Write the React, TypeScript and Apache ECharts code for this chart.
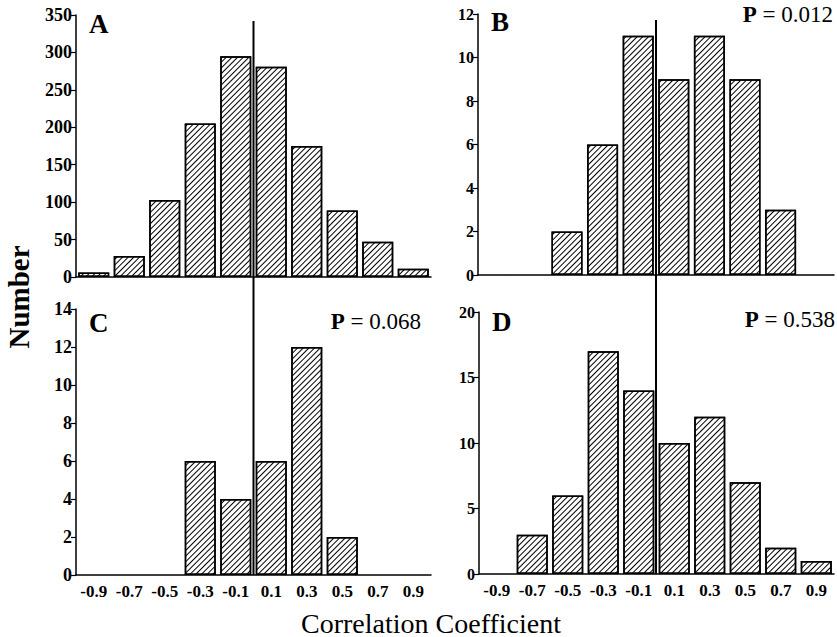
import React, { useEffect, useRef } from "react";
import * as echarts from "echarts";

const categories = ["-0.9", "-0.7", "-0.5", "-0.3", "-0.1", "0.1", "0.3", "0.5", "0.7", "0.9"];
const panelA = [6, 28, 103, 205, 295, 281, 175, 89, 47, 11];
const panelB = [0, 0, 2, 6, 11, 9, 11, 9, 3, 0];
const panelC = [0, 0, 0, 6, 4, 6, 12, 2, 0, 0];
const panelD = [0, 3, 6, 17, 14, 10, 12, 7, 2, 1];
const yMax = [350, 12, 14, 20];
const yStep = [50, 2, 2, 5];
const panelLetters = ["A", "B", "C", "D"];
const pValues = ["", "0.012", "0.068", "0.538"];
const zeroLine = [[0, 0], [0, 1]];

const FONT = "Liberation Serif";

export default function App() {
  const ref = useRef<HTMLDivElement>(null);
  useEffect(() => {
    if (!ref.current) return;
    const chart = echarts.init(ref.current, null, { renderer: "svg" });
    const grids = [
      { left: 76, top: 15, width: 355, height: 262 },
      { left: 478, top: 14, width: 356, height: 261 },
      { left: 76, top: 309, width: 355, height: 266 },
      { left: 479, top: 312, width: 355, height: 262 },
      { left: 76, top: 21, width: 355, height: 554 },
      { left: 478, top: 20, width: 356, height: 554 },
    ];
    const data = [panelA, panelB, panelC, panelD];
    const labelSize = [18, 16, 18, 16];
    const xAxis: any[] = [];
    const yAxis: any[] = [];
    const series: any[] = [];
    for (let i = 0; i < 4; i++) {
      xAxis.push({
        type: "category",
        gridIndex: i,
        data: categories,
        boundaryGap: true,
        axisLine: { lineStyle: { color: "#000", width: 1.5 } },
        axisTick: { alignWithLabel: true, length: 5, lineStyle: { color: "#000", width: 1.2 } },
        axisLabel: {
          show: i >= 2,
          color: "#000",
          fontFamily: FONT,
          fontWeight: "bold",
          fontSize: 17,
          margin: 8,
        },
        splitLine: { show: false },
      });
      yAxis.push({
        type: "value",
        gridIndex: i,
        min: 0,
        max: yMax[i],
        interval: yStep[i],
        axisLine: { show: true, lineStyle: { color: "#000", width: 1.5 } },
        axisTick: { show: true, length: 5, lineStyle: { color: "#000", width: 1.2 } },
        axisLabel: {
          color: "#000",
          fontFamily: FONT,
          fontWeight: "bold",
          fontSize: labelSize[i],
          margin: 4,
        },
        splitLine: { show: false },
      });
      series.push({
        type: "bar",
        xAxisIndex: i,
        yAxisIndex: i,
        data: data[i].map((v) => (v === 0 ? null : v)),
        barWidth: 31,
        itemStyle: {
          color: "#fff",
          borderColor: "#000",
          borderWidth: 1.5,
          decal: {
            symbol: "rect",
            symbolSize: 1,
            color: "#000",
            dashArrayX: [1, 0],
            dashArrayY: [1, 3],
            rotation: -Math.PI / 4,
          },
        },
      });
    }
    for (let i = 4; i < 6; i++) {
      xAxis.push({ type: "value", gridIndex: i, min: -1, max: 1, show: false });
      yAxis.push({ type: "value", gridIndex: i, min: 0, max: 1, show: false });
      series.push({
        type: "line",
        xAxisIndex: i,
        yAxisIndex: i,
        data: zeroLine,
        symbol: "none",
        lineStyle: { color: "#000", width: 2 },
        silent: true,
      });
    }
    const letterPos = [
      [89, 10],
      [491, 8],
      [89, 309],
      [492, 308],
    ];
    const pPos = [
      [0, 0],
      [833, 3],
      [421, 310],
      [835, 308],
    ];
    const graphics: any[] = [];
    for (let i = 0; i < 4; i++) {
      graphics.push({
        type: "text",
        x: letterPos[i][0],
        y: letterPos[i][1],
        style: {
          text: panelLetters[i],
          fontFamily: FONT,
          fontWeight: "bold",
          fontSize: 27,
          fill: "#000",
          verticalAlign: "top",
        },
      });
      if (pValues[i]) {
        graphics.push({
          type: "text",
          x: pPos[i][0],
          y: pPos[i][1],
          style: {
            text: `{b|P} = ${pValues[i]}`,
            fontFamily: FONT,
            fontSize: 23,
            fill: "#000",
            align: "right",
            verticalAlign: "top",
            rich: {
              b: { fontFamily: FONT, fontSize: 23, fontWeight: "bold", fill: "#000" },
            },
          },
        });
      }
    }
    graphics.push({
      type: "text",
      x: 19,
      y: 297,
      rotation: Math.PI / 2,
      style: {
        text: "Number",
        fontFamily: FONT,
        fontWeight: "bold",
        fontSize: 29,
        fill: "#000",
        align: "center",
        verticalAlign: "middle",
      },
    });
    graphics.push({
      type: "text",
      x: 431,
      y: 623,
      style: {
        text: "Correlation Coefficient",
        fontFamily: FONT,
        fontSize: 28,
        fill: "#000",
        align: "center",
        verticalAlign: "middle",
      },
    });
    chart.setOption({
      animation: false,
      backgroundColor: "#fff",
      grid: grids,
      xAxis,
      yAxis,
      series,
      graphic: graphics,
    });
    return () => chart.dispose();
  }, []);
  return (
    <div
      ref={ref}
      style={{ position: "fixed", left: 0, top: 0, width: 837, height: 637 }}
    />
  );
}
